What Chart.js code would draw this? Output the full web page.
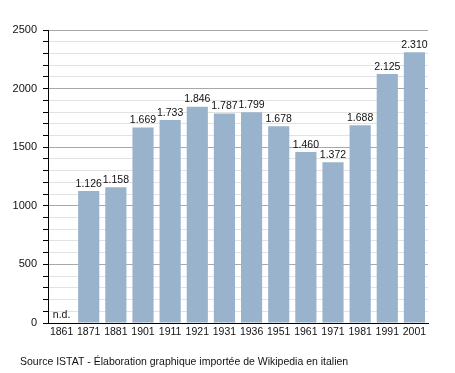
<!DOCTYPE html>
<html>
<head>
<meta charset="utf-8">
<script src="https://cdn.jsdelivr.net/npm/chart.js@4/dist/chart.umd.min.js"></script>
<style>
  html, body { margin: 0; padding: 0; background: #fff; }
  #wrap { width: 455px; height: 373px; }
</style>
</head>
<body>
<div id="wrap"><canvas id="popChart" width="455" height="373"></canvas></div>
<script>
// Data
const anni = ['1861', '1871', '1881', '1901', '1911', '1921', '1931', '1936', '1951', '1961', '1971', '1981', '1991', '2001'];
const abitanti = [null, 1126, 1158, 1669, 1733, 1846, 1787, 1799, 1678, 1460, 1372, 1688, 2125, 2310];
const fonte = 'Source ISTAT - Élaboration graphique importée de Wikipedia en italien';

const FONT = '"Liberation Sans", Arial, sans-serif';

function formatNum(v) {
  return String(v).replace(/\B(?=(\d{3})+(?!\d))/g, '.');
}

// Labels above bars + footer
const labelPlugin = {
  id: 'labelPlugin',
  afterDatasetsDraw(chart) {
    const ctx = chart.ctx;
    const meta = chart.getDatasetMeta(0);
    ctx.save();
    ctx.font = '10.5px ' + FONT;
    ctx.fillStyle = '#111';
    ctx.textAlign = 'center';
    ctx.textBaseline = 'bottom';
    meta.data.forEach((bar, i) => {
      const v = abitanti[i];
      if (v === null) {
        ctx.fillText('n.d.', bar.x, chart.chartArea.bottom - 3);
      } else {
        ctx.fillText(formatNum(v), bar.x, bar.y - 2);
      }
    });
    ctx.textAlign = 'left';
    ctx.textBaseline = 'middle';
    ctx.fillText(fonte, 20, 362);
    ctx.restore();
  },
};

const ctx = document.getElementById('popChart').getContext('2d');
new Chart(ctx, {
  type: 'bar',
  data: {
    labels: anni,
    datasets: [
      {
        data: abitanti,
        backgroundColor: '#9ab3cc',
        borderWidth: 0,
        barPercentage: 0.78,
        categoryPercentage: 1,
      },
    ],
  },
  options: {
    responsive: false,
    animation: false,
    layout: { padding: { top: 30, right: 27, bottom: 26, left: 0 } },
    plugins: {
      legend: { display: false },
      tooltip: { enabled: false },
    },
    scales: {
      x: {
        grid: { display: false, drawTicks: false },
        border: { display: true, color: '#000', width: 1 },
        ticks: { color: '#111', font: { size: 10.5, family: FONT }, padding: 3, maxRotation: 0, autoSkip: false },
        afterFit(scale) { scale.height = 24; },
      },
      y: {
        min: 0,
        max: 2500,
        border: { display: true, color: '#000', width: 1 },
        grid: {
          color: (c) => (c.tick && c.tick.value % 500 === 0 ? '#a8a8a8' : '#e2e2e2'),
          tickColor: '#000',
          tickLength: 5,
        },
        ticks: {
          stepSize: 100,
          autoSkip: false,
          padding: 6,
          color: '#111',
          font: { size: 11, family: FONT },
          callback: (v) => (v % 500 === 0 ? v : ''),
        },
        afterFit(scale) { scale.width = 48; },
      },
    },
  },
  plugins: [labelPlugin],
});
</script>
</body>
</html>
